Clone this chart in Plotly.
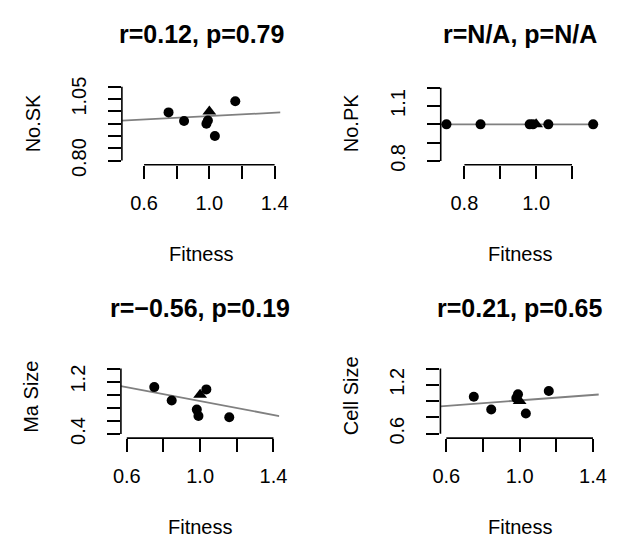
import plotly.graph_objects as go

# the page puts the figure 8 px from the top-left corner of the window
OFF = 8
W, H = 627 - OFF, 549 - OFF

# ---------------- data ----------------
fitness = [0.750, 0.845, 0.982, 0.991, 1.034, 1.159]
no_sk = [0.996, 0.961, 0.950, 0.963, 0.900, 1.041]
no_pk = [1.0, 1.0, 1.0, 1.0, 1.0, 1.0]
ma_size = [1.116, 0.910, 0.772, 0.675, 1.081, 0.655]
cell_size = [1.054, 0.896, 1.037, 1.085, 0.848, 1.125]

ref_fitness = [1.0]
ref_value = [1.0]

fit_intercept = [0.947, 1.0, 1.430, 0.841]
fit_slope = [0.034, 0.0, -0.528, 0.168]

titles = ["r=0.12, p=0.79", "r=N/A, p=N/A", "r=\u22120.56, p=0.19", "r=0.21, p=0.65"]
y_labels = ["No.SK", "No.PK", "Ma Size", "Cell Size"]
x_label = "Fitness"

x_ticks = [[0.6, 0.8, 1.0, 1.2, 1.4], [0.8, 0.9, 1.0, 1.1],
           [0.6, 0.8, 1.0, 1.2, 1.4], [0.6, 0.8, 1.0, 1.2, 1.4]]
x_ticktext = [["0.6", "", "1.0", "", "1.4"], ["0.8", "", "1.0", ""],
              ["0.6", "", "1.0", "", "1.4"], ["0.6", "", "1.0", "", "1.4"]]
y_ticks = [[0.80, 0.85, 0.90, 0.95, 1.00, 1.05, 1.10], [0.8, 0.9, 1.0, 1.1, 1.2],
           [0.4, 0.6, 0.8, 1.0, 1.2, 1.4], [0.6, 0.8, 1.0, 1.2, 1.4]]
y_ticktext = [["0.80", "", "", "", "", "1.05", ""], ["0.8", "", "", "1.1", ""],
              ["0.4", "", "", "", "1.2", ""], ["0.6", "", "", "1.2", ""]]

series = [no_sk, no_pk, ma_size, cell_size]

# ---------------- layout (window-pixel boxes of the plot regions) ----------------
boxes = [(116.7, 279.5, 79.5, 162.5), (444.0, 606.0, 79.5, 162.5),
         (115.7, 278.3, 363.5, 446.3), (443.7, 606.3, 363.5, 446.3)]
x_ranges = [[0.464, 1.436], [0.734, 1.174], [0.568, 1.432], [0.568, 1.432]]
y_ranges = [[0.783, 1.108], [0.779, 1.216], [0.337, 1.555], [0.546, 1.525]]


def fx(px):
    return (px - OFF) / W


def fy(py):
    return 1 - (py - OFF) / H


FONT = "Liberation Sans, Arial, Helvetica, sans-serif"
TICK_SIZE = 20
TITLE_SIZE = 25

fig = go.Figure()
layout = dict(width=W, height=H, margin=dict(l=0, r=0, t=0, b=0),
              paper_bgcolor="white", plot_bgcolor="white", showlegend=False,
              font=dict(family=FONT, color="black"))
shapes = []
annotations = []

for i in range(4):
    xa = "x" if i == 0 else f"x{i+1}"
    ya = "y" if i == 0 else f"y{i+1}"
    xl, xr, yt, yb = boxes[i]
    lx = x_ranges[i]
    ly = [fit_intercept[i] + fit_slope[i] * v for v in lx]
    fig.add_trace(go.Scatter(x=lx, y=ly, mode="lines", xaxis=xa, yaxis=ya,
                             line=dict(color="#808080", width=1.8), hoverinfo="skip"))
    fig.add_trace(go.Scatter(x=fitness, y=series[i], mode="markers", xaxis=xa, yaxis=ya,
                             marker=dict(symbol="circle", size=10, color="black")))
    fig.add_trace(go.Scatter(x=ref_fitness, y=ref_value, mode="markers", xaxis=xa, yaxis=ya,
                             marker=dict(symbol="triangle-up", size=12, color="black")))

    common = dict(showgrid=False, zeroline=False, showline=False, ticks="outside",
                  ticklen=13, tickwidth=1.6, tickcolor="black", fixedrange=True,
                  tickfont=dict(family=FONT, size=TICK_SIZE, color="black"))
    layout["xaxis" if i == 0 else f"xaxis{i+1}"] = dict(
        common, domain=[fx(xl), fx(xr)], range=x_ranges[i], anchor=ya,
        tickmode="array", tickvals=x_ticks[i], ticktext=x_ticktext[i],
        ticklabelstandoff=7)
    layout["yaxis" if i == 0 else f"yaxis{i+1}"] = dict(
        common, domain=[fy(yb), fy(yt)], range=y_ranges[i], anchor=xa,
        tickmode="array", tickvals=y_ticks[i], ticktext=y_ticktext[i],
        tickangle=-90, ticklabelstandoff=14)

    # R-style axis lines spanning first..last tick
    shapes.append(dict(type="line", xref=xa, yref=f"{ya} domain",
                       x0=x_ticks[i][0], x1=x_ticks[i][-1], y0=0, y1=0,
                       line=dict(color="black", width=1.6)))
    shapes.append(dict(type="line", xref=f"{xa} domain", yref=ya,
                       x0=0, x1=0, y0=y_ticks[i][0], y1=y_ticks[i][-1],
                       line=dict(color="black", width=1.6)))

    cx = (xl + xr) / 2
    annotations.append(dict(text=f"<b>{titles[i]}</b>", xref="paper", yref="paper",
                            x=fx(cx), y=fy(yt - 52.8), xanchor="center", yanchor="middle",
                            showarrow=False, font=dict(family=FONT, size=TITLE_SIZE, color="black")))
    annotations.append(dict(text=x_label, xref="paper", yref="paper",
                            x=fx(cx), y=fy(yb + 92.3), xanchor="center", yanchor="middle",
                            showarrow=False, font=dict(family=FONT, size=TICK_SIZE, color="black")))
    annotations.append(dict(text=y_labels[i], xref="paper", yref="paper",
                            x=fx(xl - 91.8), y=fy((yt + yb) / 2 - 2),
                            xanchor="center", yanchor="middle", textangle=-90,
                            showarrow=False, font=dict(family=FONT, size=TICK_SIZE, color="black")))

layout["shapes"] = shapes
layout["annotations"] = annotations
fig.update_layout(**layout)
fig.write_html("out.html")
